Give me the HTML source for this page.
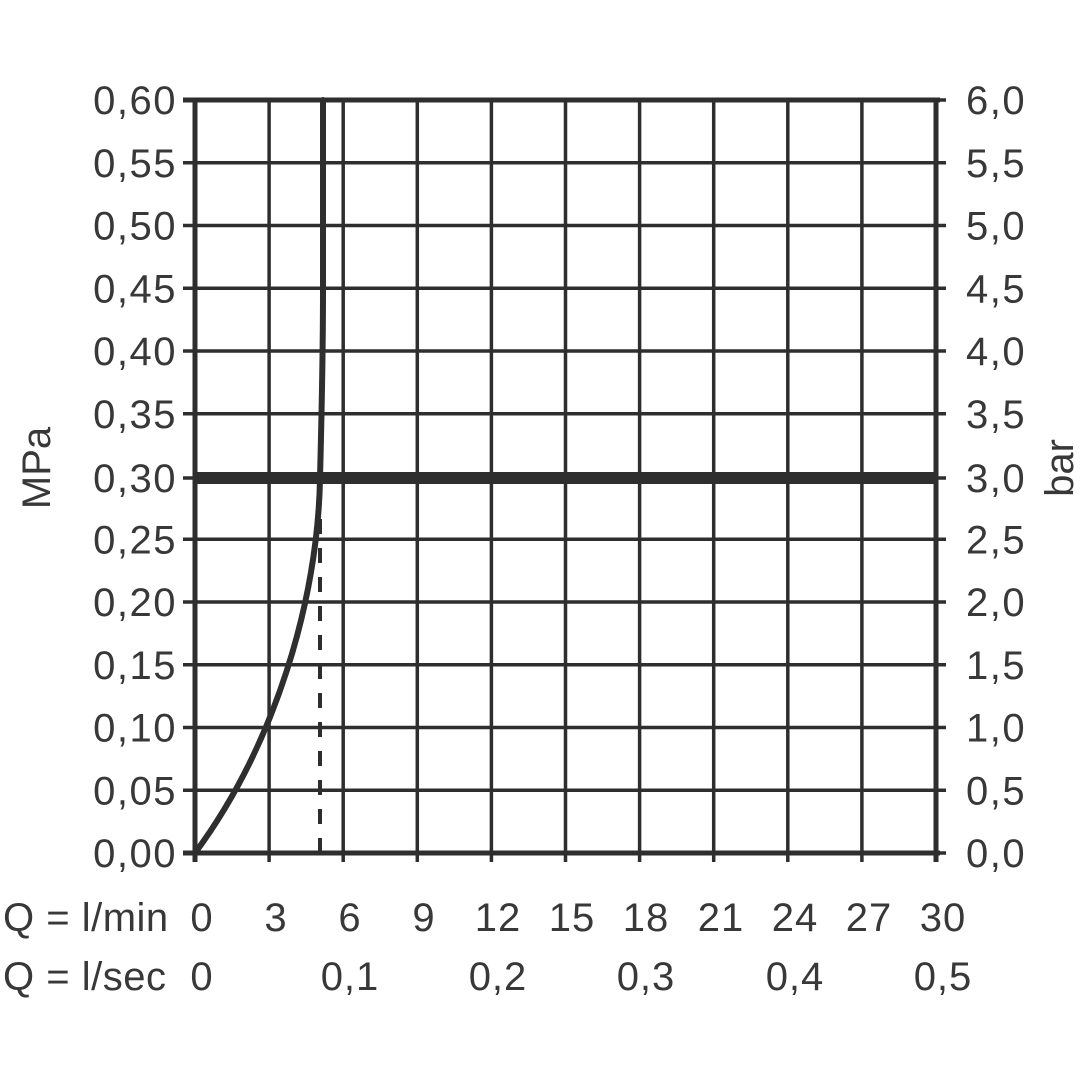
<!DOCTYPE html>
<html>
<head>
<meta charset="utf-8">
<style>
  html, body { margin:0; padding:0; background:#fff; }
  svg { display:block; }
  text { font-family: "Liberation Sans", "DejaVu Sans", sans-serif; fill:#383838; font-size:40px; }
</style>
</head>
<body>
<svg width="1080" height="1080" viewBox="0 0 1080 1080" xmlns="http://www.w3.org/2000/svg">
  <rect width="1080" height="1080" fill="#fff"/>
  <g stroke="#2e2e2e" fill="none">
    <!-- vertical grid lines -->
    <g stroke-width="3.5">
      <line x1="269.1" y1="100" x2="269.1" y2="862"/>
      <line x1="343.2" y1="100" x2="343.2" y2="862"/>
      <line x1="417.3" y1="100" x2="417.3" y2="862"/>
      <line x1="491.4" y1="100" x2="491.4" y2="862"/>
      <line x1="565.5" y1="100" x2="565.5" y2="862"/>
      <line x1="639.6" y1="100" x2="639.6" y2="862"/>
      <line x1="713.7" y1="100" x2="713.7" y2="862"/>
      <line x1="787.8" y1="100" x2="787.8" y2="862"/>
      <line x1="861.9" y1="100" x2="861.9" y2="862"/>
    </g>
    <!-- horizontal grid lines with ticks -->
    <g stroke-width="3.5">
      <line x1="183" y1="162.75" x2="946" y2="162.75"/>
      <line x1="183" y1="225.5" x2="946" y2="225.5"/>
      <line x1="183" y1="288.25" x2="946" y2="288.25"/>
      <line x1="183" y1="351" x2="946" y2="351"/>
      <line x1="183" y1="413.75" x2="946" y2="413.75"/>
      <line x1="183" y1="478" x2="946" y2="478"/>
      <line x1="183" y1="539.25" x2="946" y2="539.25"/>
      <line x1="183" y1="602" x2="946" y2="602"/>
      <line x1="183" y1="664.75" x2="946" y2="664.75"/>
      <line x1="183" y1="727.5" x2="946" y2="727.5"/>
      <line x1="183" y1="790.25" x2="946" y2="790.25"/>
      <line x1="183" y1="100" x2="946" y2="100"/>
      <line x1="183" y1="853" x2="946" y2="853"/>
    </g>
    <!-- frame -->
    <line x1="183" y1="100" x2="940" y2="100" stroke-width="5"/>
    <line x1="183" y1="853" x2="940" y2="853" stroke-width="5"/>
    <line x1="195" y1="98" x2="195" y2="862" stroke-width="5"/>
    <line x1="936" y1="98" x2="936" y2="862" stroke-width="5"/>
    <!-- thick 0.30 line -->
    <line x1="195" y1="478" x2="936" y2="478" stroke-width="12"/>
    <!-- dashed line -->
    <line x1="320" y1="853" x2="320" y2="496" stroke-width="4" stroke-dasharray="15 14"/>
    <!-- curve -->
    <path d="M195,853 C275,745 318,600 320,478 C321.5,420 323,360 323,290 L323,100" stroke-width="6" stroke-linejoin="round" stroke-linecap="round"/>
  </g>

  <!-- left labels -->
  <g text-anchor="end" letter-spacing="1.5">
    <text x="177" y="114">0,60</text>
    <text x="177" y="176.75">0,55</text>
    <text x="177" y="239.5">0,50</text>
    <text x="177" y="302.25">0,45</text>
    <text x="177" y="365">0,40</text>
    <text x="177" y="427.75">0,35</text>
    <text x="177" y="492">0,30</text>
    <text x="177" y="553.25">0,25</text>
    <text x="177" y="616">0,20</text>
    <text x="177" y="678.75">0,15</text>
    <text x="177" y="741.5">0,10</text>
    <text x="177" y="804.25">0,05</text>
    <text x="177" y="867">0,00</text>
  </g>
  <!-- right labels -->
  <g text-anchor="start" letter-spacing="1.5">
    <text x="966" y="114">6,0</text>
    <text x="966" y="176.75">5,5</text>
    <text x="966" y="239.5">5,0</text>
    <text x="966" y="302.25">4,5</text>
    <text x="966" y="365">4,0</text>
    <text x="966" y="427.75">3,5</text>
    <text x="966" y="492">3,0</text>
    <text x="966" y="553.25">2,5</text>
    <text x="966" y="616">2,0</text>
    <text x="966" y="678.75">1,5</text>
    <text x="966" y="741.5">1,0</text>
    <text x="966" y="804.25">0,5</text>
    <text x="966" y="867">0,0</text>
  </g>

  <!-- axis titles -->
  <text transform="translate(50,468) rotate(-90)" text-anchor="middle" font-size="38">MPa</text>
  <text transform="translate(1073,468) rotate(-90)" text-anchor="middle" font-size="38">bar</text>

  <!-- bottom rows -->
  <text x="3" y="931" letter-spacing="0.5">Q = l/min</text>
  <text x="3" y="990" letter-spacing="0.5">Q = l/sec</text>
  <g text-anchor="middle" letter-spacing="1">
    <text x="202" y="931">0</text>
    <text x="276" y="931">3</text>
    <text x="350" y="931">6</text>
    <text x="424" y="931">9</text>
    <text x="498" y="931">12</text>
    <text x="572" y="931">15</text>
    <text x="646" y="931">18</text>
    <text x="721" y="931">21</text>
    <text x="795" y="931">24</text>
    <text x="869" y="931">27</text>
    <text x="943" y="931">30</text>

    <text x="202" y="990">0</text>
    <text x="350" y="990">0,1</text>
    <text x="498" y="990">0,2</text>
    <text x="646" y="990">0,3</text>
    <text x="795" y="990">0,4</text>
    <text x="943" y="990">0,5</text>
  </g>
</svg>
</body>
</html>
